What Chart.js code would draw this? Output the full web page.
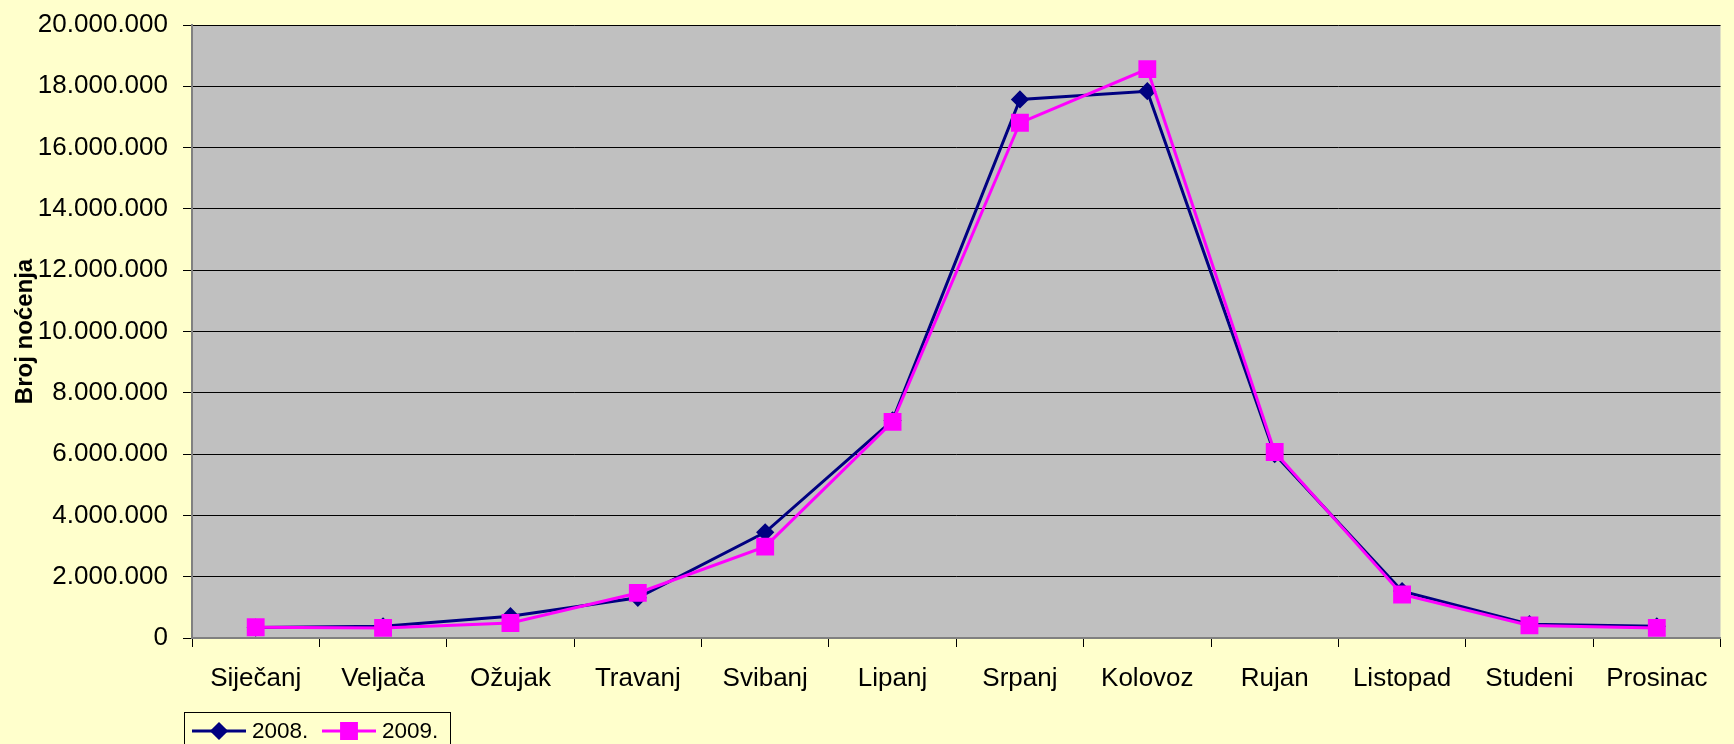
<!DOCTYPE html>
<html>
<head>
<meta charset="utf-8">
<script src="https://cdn.jsdelivr.net/npm/chart.js@4"></script>
<style>
  html, body { margin: 0; padding: 0; background: #FFFFCC; }
  #wrap { width: 1734px; height: 744px; position: relative; }
</style>
</head>
<body>
<div id="wrap"><canvas id="chart"></canvas></div>
<script>
const months = ['Siječanj', 'Veljača', 'Ožujak', 'Travanj', 'Svibanj', 'Lipanj',
  'Srpanj', 'Kolovoz', 'Rujan', 'Listopad', 'Studeni', 'Prosinac'];
const nights2008 = [340000, 380000, 710000, 1310000, 3450000, 7100000,
  17570000, 17840000, 6000000, 1530000, 450000, 380000];
const nights2009 = [350000, 330000, 490000, 1470000, 2980000, 7050000,
  16810000, 18560000, 6070000, 1420000, 410000, 330000];
const seriesNames = ['2008.', '2009.'];
const yTitle = 'Broj noćenja';

const FONT = '"Liberation Sans", Arial, sans-serif';

function fmt(v) {
  return String(v).replace(/\B(?=(\d{3})+(?!\d))/g, '.');
}

// grey plot area
const plotBg = {
  id: 'plotBg',
  beforeDraw(chart) {
    const { ctx, chartArea: a } = chart;
    ctx.save();
    ctx.fillStyle = '#C0C0C0';
    ctx.fillRect(a.left, a.top, a.right - a.left, a.bottom - a.top);
    ctx.restore();
  }
};

// boxed legend under the axis, like the old excel one
const boxLegend = {
  id: 'boxLegend',
  afterDraw(chart) {
    const ctx = chart.ctx;
    ctx.save();
    ctx.strokeStyle = '#000';
    ctx.lineWidth = 1;
    ctx.strokeRect(184.5, 712.5, 266, 40);
    ctx.font = '22.5px ' + FONT;
    ctx.textBaseline = 'middle';
    let x = 192;
    const y = 731;
    chart.data.datasets.forEach(ds => {
      ctx.strokeStyle = ds.borderColor;
      ctx.lineWidth = ds.borderWidth;
      ctx.beginPath();
      ctx.moveTo(x, y);
      ctx.lineTo(x + 54, y);
      ctx.stroke();
      ctx.fillStyle = ds.pointBackgroundColor;
      ctx.strokeStyle = ds.pointBorderColor;
      Chart.helpers.drawPoint(ctx, {
        pointStyle: ds.pointStyle, radius: ds.pointRadius, rotation: 0, borderWidth: 1
      }, x + 27, y);
      ctx.fillStyle = '#000';
      ctx.fillText(ds.label, x + 60, y + 1);
      x += 130;
    });
    ctx.restore();
  }
};

new Chart(document.getElementById('chart'), {
  type: 'line',
  data: {
    labels: months,
    datasets: [
      {
        label: seriesNames[0],
        data: nights2008,
        order: 1,
        borderColor: '#000080',
        borderWidth: 3,
        pointStyle: 'rectRot',
        pointRadius: 7,
        pointBackgroundColor: '#000080',
        pointBorderColor: '#000080',
        tension: 0
      },
      {
        label: seriesNames[1],
        data: nights2009,
        order: 0,
        borderColor: '#FF00FF',
        borderWidth: 3,
        pointStyle: 'rect',
        pointRadius: 10.5,
        pointBackgroundColor: '#FF00FF',
        pointBorderColor: '#FF00FF',
        tension: 0
      }
    ]
  },
  options: {
    responsive: true,
    maintainAspectRatio: false,
    animation: false,
    layout: { padding: { top: 25, right: 0, bottom: 0, left: 0 } },
    plugins: {
      legend: { display: false },
      tooltip: { enabled: false }
    },
    scales: {
      x: {
        offset: true,
        grid: {
          offset: true,
          drawOnChartArea: false,
          drawTicks: true,
          tickLength: 9,
          color: '#000'
        },
        border: { color: '#808080', width: 2 },
        ticks: {
          color: '#000',
          font: { family: FONT, size: 26 },
          padding: 16,
          maxRotation: 0,
          autoSkip: false
        },
        afterFit(scale) {
          scale.height = 106;
          scale.paddingLeft = 0;
          scale.paddingRight = 0;
        }
      },
      y: {
        min: 0,
        max: 20000000,
        grid: {
          color: '#000',
          lineWidth: 1,
          tickLength: 9,
          drawTicks: true
        },
        border: { color: '#808080', width: 2 },
        ticks: {
          stepSize: 2000000,
          color: '#000',
          font: { family: FONT, size: 26 },
          padding: 15,
          callback: v => fmt(v)
        },
        title: {
          display: true,
          text: yTitle,
          color: '#000',
          font: { family: FONT, size: 24, weight: 'bold' },
          padding: { top: 11, bottom: 0 }
        },
        afterFit(scale) {
          scale.width = 192;
          scale.paddingTop = 0;
          scale.paddingBottom = 0;
        }
      }
    }
  },
  plugins: [plotBg, boxLegend]
});
</script>
</body>
</html>
